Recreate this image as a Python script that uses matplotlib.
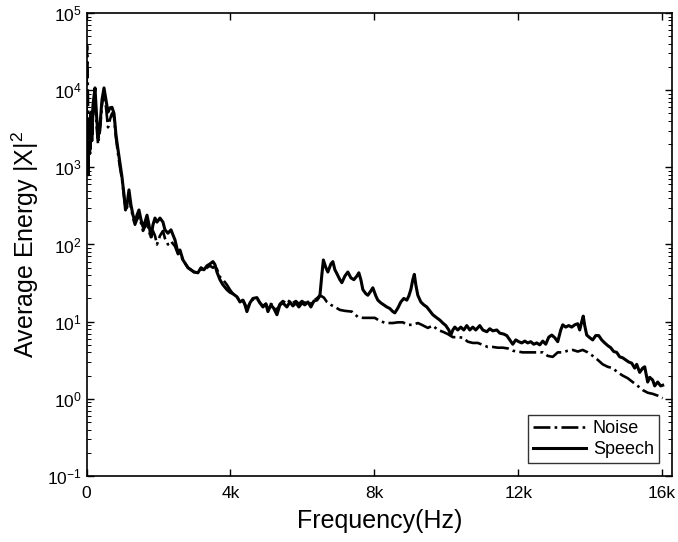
import matplotlib
matplotlib.use('Agg')
import matplotlib.pyplot as plt
import numpy as np
from matplotlib.ticker import LogLocator, NullFormatter

plt.rcParams['font.family'] = ['Liberation Sans', 'DejaVu Sans']
plt.rcParams['mathtext.default'] = 'regular'

# speech spectrum (Hz, average energy)
speech_f = [0, 28, 47, 70, 97, 125, 153, 180, 236, 278, 320, 375, 430, 486, 542, 597, 653, 708, 764, 820,
            875, 930, 986, 1042, 1083, 1125, 1180, 1236, 1292, 1347, 1403, 1458, 1514, 1570, 1625, 1681,
            1736, 1792, 1847, 1903, 1958, 2042, 2125, 2180, 2264, 2347, 2458, 2542, 2597, 2681, 2764, 2820,
            2903, 2986, 3097, 3181, 3264, 3347, 3431, 3514, 3569, 3625, 3708, 3792, 3903, 3986, 4069, 4181,
            4264, 4347, 4403, 4458, 4542, 4625, 4736, 4820, 4903, 4986, 5042, 5125, 5208, 5292, 5375, 5458,
            5569, 5653, 5736, 5819, 5903, 5986, 6069, 6153, 6236, 6319, 6403, 6486, 6542, 6583, 6653, 6708,
            6792, 6847, 6903, 6958, 7042, 7097, 7181, 7264, 7347, 7431, 7514, 7569, 7625, 7681, 7764, 7820,
            7903, 7958, 8042, 8097, 8181, 8264, 8347, 8431, 8514, 8569, 8653, 8736, 8819, 8903, 8958, 9014,
            9069, 9111, 9153, 9208, 9292, 9375, 9458, 9542, 9625, 9736, 9819, 9903, 9986, 10069, 10125,
            10181, 10236, 10319, 10403, 10486, 10569, 10653, 10736, 10819, 10930, 11014, 11125, 11208,
            11292, 11403, 11486, 11597, 11681, 11764, 11847, 11930, 12014, 12097, 12181, 12264, 12347,
            12431, 12514, 12597, 12681, 12764, 12847, 12931, 13014, 13097, 13181, 13236, 13319, 13403,
            13486, 13569, 13653, 13708, 13764, 13806, 13847, 13903, 13986, 14069, 14153, 14236, 14319,
            14403, 14486, 14569, 14653, 14736, 14819, 14903, 14986, 15069, 15153, 15236, 15292, 15375,
            15458, 15514, 15597, 15653, 15736, 15792, 15875, 15958, 16014]
speech_e = [4800, 1250, 800, 4100, 1700, 5200, 2600, 6500, 10700, 4800, 2400, 3500, 7500, 10700, 7500, 5200,
            5900, 6000, 5000, 2600, 1700, 1140, 750, 440, 280, 325, 510, 325, 240, 195, 240, 280, 210, 170,
            195, 240, 180, 125, 180, 220, 195, 220, 195, 155, 140, 155, 115, 78, 85, 63, 55, 50, 47, 44, 43,
            50, 47, 53, 56, 60, 55, 44, 35, 30, 26, 24, 23, 21, 18, 19, 16.5, 13.5, 17.5, 20, 20.5, 17.5,
            15.5, 17, 13.5, 16.5, 14.8, 12.3, 16.5, 17.5, 15.5, 18, 16, 17.5, 15.5, 17.5, 16.5, 18, 15.5,
            18.5, 19, 21.5, 41, 63, 50, 44, 56, 60, 47, 42, 35, 32, 39, 44, 37, 35, 39, 43, 35, 26, 23, 22,
            25, 27.5, 21.5, 19, 17.5, 16.5, 15.5, 14.8, 13.5, 13, 15, 18, 20, 19, 21.5, 26, 35, 41, 30, 22,
            18, 16.5, 15.5, 13.8, 12.3, 11.2, 10.5, 9.6, 8.9, 7.8, 6.7, 7.8, 8.5, 7.8, 8.5, 7.8, 8.9, 7.8,
            8.5, 7.8, 8.9, 7.8, 7.4, 8.1, 7.6, 7.8, 7.1, 6.9, 6.6, 5.8, 5.1, 5.8, 5.5, 5.3, 5.6, 5.3, 5.5,
            5.1, 5.3, 5.0, 5.6, 5.1, 6.3, 6.7, 6.2, 5.5, 7.8, 9.1, 8.5, 8.9, 8.5, 9.1, 9.4, 7.8, 10, 11.8,
            8.9, 6.7, 6.2, 5.8, 6.6, 6.6, 5.8, 5.3, 4.9, 4.6, 4.1, 4.0, 3.5, 3.4, 3.2, 3.0, 2.9, 2.5, 2.8,
            2.2, 2.5, 2.6, 1.65, 1.9, 1.75, 1.47, 1.65, 1.47, 1.5]

# noise spectrum (Hz, average energy)
noise_f = [0, 14, 28, 42, 56, 70, 97, 125, 153, 180, 236, 278, 320, 375, 430, 486, 542, 597, 653, 708, 764,
           820, 875, 930, 986, 1042, 1083, 1125, 1180, 1236, 1292, 1347, 1403, 1458, 1514, 1570, 1625,
           1681, 1736, 1792, 1847, 1903, 1958, 2042, 2125, 2180, 2264, 2347, 2458, 2542, 2597, 2681, 2764,
           2820, 2903, 2986, 3097, 3181, 3264, 3347, 3431, 3514, 3569, 3625, 3708, 3792, 3903, 3986, 4069,
           4181, 4264, 4347, 4403, 4458, 4542, 4625, 4736, 4820, 4903, 4986, 5042, 5125, 5208, 5292, 5375,
           5458, 5569, 5653, 5736, 5819, 5903, 5986, 6069, 6153, 6236, 6319, 6403, 6486, 6597, 6681, 6792,
           6903, 7042, 7181, 7375, 7542, 7681, 7820, 8014, 8153, 8319, 8514, 8653, 8792, 8931, 9069, 9208,
           9319, 9486, 9625, 9764, 9903, 10042, 10181, 10319, 10458, 10597, 10736, 10875, 11014, 11153,
           11292, 11431, 11569, 11708, 11847, 11986, 12125, 12264, 12403, 12542, 12681, 12819, 12958,
           13097, 13236, 13375, 13514, 13653, 13792, 13931, 14069, 14208, 14347, 14486, 14625, 14764,
           14903, 15042, 15181, 15319, 15458, 15597, 15736, 15875, 16014]
noise_e = [5000, 38000, 20000, 6800, 1500, 2500, 1500, 4000, 2200, 5000, 8000, 3500, 2000, 3000, 6500, 9500,
           6000, 3300, 4200, 5000, 4500, 2400, 1500, 1000, 700, 420, 300, 300, 420, 300, 220, 180, 210,
           230, 190, 150, 170, 190, 150, 120, 150, 130, 100, 130, 150, 120, 100, 110, 95, 75, 78, 62, 55,
           50, 47, 44, 43, 48, 46, 50, 53, 50, 52, 48, 38, 35, 30, 26, 23, 21, 18.5, 19, 17, 14.5, 17.5,
           19.5, 20, 17.5, 16, 17, 15, 17, 16, 14, 17, 18.5, 17, 19, 17.5, 18.5, 17, 18.5, 17.5, 18, 17,
           19, 20, 22, 20.5, 18, 16.5, 15.5, 14.2, 13.8, 13.5, 11.5, 11.2, 11.2, 11.2, 10.2, 9.6, 9.6, 9.8,
           9.8, 9.1, 9.1, 9.6, 9.1, 8.3, 8.9, 7.8, 7.4, 6.9, 6.3, 6.3, 6.2, 5.5, 5.3, 5.3, 5.0, 4.7, 4.7,
           4.6, 4.6, 4.5, 4.2, 4.1, 4.0, 4.0, 4.0, 4.0, 4.0, 3.6, 3.5, 4.0, 4.0, 4.2, 4.3, 4.1, 4.3, 4.0,
           3.6, 3.2, 2.8, 2.6, 2.5, 2.2, 2.0, 1.85, 1.65, 1.47, 1.3, 1.2, 1.16, 1.1, 1.02]

x_ticks = [0, 4000, 8000, 12000, 16000]
x_tick_labels = ['0', '4k', '8k', '12k', '16k']

fig = plt.figure(figsize=(6.78, 5.42), dpi=100)
ax = fig.add_axes([0.1276, 0.1218, 0.8634, 0.8542])

ax.semilogy(noise_f, noise_e, color='black', linestyle='-.', linewidth=1.9, label='Noise')
ax.semilogy(speech_f, speech_e, color='black', linestyle='-', linewidth=2.2, label='Speech')

ax.set_xlim(0, 16270)
ax.set_ylim(1e-1, 1e5)
ax.set_xticks(x_ticks)
ax.set_xticklabels(x_tick_labels)
ax.yaxis.set_major_locator(LogLocator(base=10, numticks=10))
ax.yaxis.set_minor_locator(LogLocator(base=10, subs=np.arange(2, 10), numticks=20))
ax.yaxis.set_minor_formatter(NullFormatter())

ax.tick_params(which='both', direction='in', top=True, right=True, labelsize=12.5)
ax.tick_params(which='major', length=5, width=1)
ax.tick_params(which='minor', length=3, width=0.7)
ax.tick_params(axis='x', pad=7)
for sp in ax.spines.values():
    sp.set_linewidth(1.2)

ax.set_xlabel('Frequency(Hz)', fontsize=18, labelpad=6)
ax.set_ylabel('Average Energy $|X|^2$', fontsize=18, labelpad=4)

leg = ax.legend(loc='lower right', fontsize=13, frameon=True, fancybox=False, edgecolor='black',
                handlelength=2.9, handletextpad=0.4, borderaxespad=0.7, labelspacing=0.2, borderpad=0.3)
leg.get_frame().set_linewidth(1.0)

plt.savefig('out.png', dpi=100)
plt.close()
